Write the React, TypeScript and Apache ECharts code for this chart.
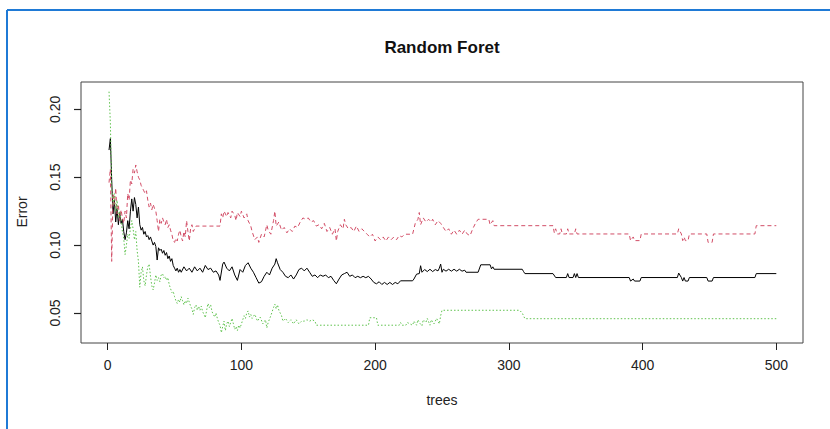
import React, { useEffect, useRef } from "react";
import * as echarts from "echarts";

const chartTitle = "Random Foret";
const xName = "trees";
const yName = "Error";
const xTicks = [0, 100, 200, 300, 400, 500];
const yTicks = [0.05, 0.1, 0.15, 0.2];

// OOB error (black, solid)
const oobError: [number, number][] = [
  [1, 0.17], [2, 0.1785], [3, 0.148], [4, 0.123], [5, 0.133], [6, 0.117], [7, 0.127], [8, 0.115], [9, 0.124], [10, 0.116],
  [11, 0.119], [12, 0.11], [13, 0.104], [14, 0.109], [15, 0.118], [16, 0.112], [17, 0.125], [18, 0.134], [19, 0.125], [20, 0.135],
  [21, 0.13], [22, 0.12], [23, 0.128], [24, 0.115], [25, 0.111], [26, 0.113], [27, 0.108], [28, 0.11], [29, 0.106], [30, 0.107],
  [31, 0.104], [32, 0.106], [33, 0.103], [34, 0.1], [35, 0.102], [36, 0.099], [37, 0.089], [38, 0.098], [39, 0.096], [40, 0.097],
  [41, 0.094], [42, 0.096], [43, 0.0925], [44, 0.0945], [45, 0.09], [46, 0.092], [47, 0.088], [48, 0.09], [49, 0.085], [50, 0.083],
  [51, 0.081], [52, 0.083], [53, 0.08], [54, 0.082], [55, 0.08], [57, 0.084], [59, 0.081], [61, 0.083], [63, 0.08], [65, 0.084],
  [67, 0.081], [69, 0.083], [71, 0.08], [73, 0.085], [75, 0.082], [77, 0.083], [79, 0.08], [81, 0.081], [83, 0.078], [84, 0.074],
  [86, 0.086], [87, 0.0875], [89, 0.083], [91, 0.081], [93, 0.084], [95, 0.078], [97, 0.074], [99, 0.082], [101, 0.08], [103, 0.085],
  [105, 0.087], [107, 0.083], [109, 0.08], [111, 0.076], [113, 0.072], [115, 0.073], [117, 0.077], [119, 0.08], [121, 0.078], [123, 0.083],
  [125, 0.086], [126, 0.09], [127, 0.087], [129, 0.082], [131, 0.08], [133, 0.077], [135, 0.076], [137, 0.078], [139, 0.075], [141, 0.078],
  [143, 0.082], [145, 0.083], [147, 0.081], [149, 0.083], [151, 0.08], [153, 0.077], [155, 0.078], [157, 0.076], [159, 0.078], [161, 0.077],
  [163, 0.078], [165, 0.076], [167, 0.077], [169, 0.074], [171, 0.0715], [173, 0.075], [175, 0.078], [177, 0.079], [179, 0.08], [181, 0.077],
  [183, 0.078], [185, 0.076], [187, 0.077], [189, 0.076], [191, 0.077], [193, 0.076], [195, 0.077], [197, 0.075], [199, 0.0725], [201, 0.0715],
  [203, 0.073], [205, 0.071], [207, 0.0725], [209, 0.071], [211, 0.0725], [213, 0.071], [215, 0.0725], [217, 0.0715], [219, 0.0737], [228, 0.0737],
  [229, 0.075], [231, 0.0786], [233, 0.079], [234, 0.0848], [235, 0.08], [237, 0.082], [239, 0.0805], [241, 0.0822], [243, 0.0805], [245, 0.082],
  [247, 0.081], [248, 0.083], [249, 0.086], [250, 0.08], [251, 0.0822], [253, 0.0808], [255, 0.0822], [257, 0.0808], [259, 0.0822], [261, 0.0808],
  [263, 0.0822], [265, 0.0808], [267, 0.0815], [268, 0.08], [277, 0.08], [279, 0.0855], [286, 0.0855], [287, 0.0825], [288, 0.084], [289, 0.0822],
  [310, 0.0822], [311, 0.0805], [312, 0.079], [333, 0.079], [335, 0.0761], [343, 0.0761], [344, 0.079], [345, 0.0761], [348, 0.0761], [349, 0.079],
  [350, 0.0761], [351, 0.079], [352, 0.0761], [390, 0.0761], [391, 0.0735], [393, 0.075], [394, 0.0735], [398, 0.0735], [399, 0.0761], [426, 0.0761],
  [427, 0.0794], [429, 0.0761], [430, 0.0735], [431, 0.0761], [432, 0.0735], [434, 0.0735], [435, 0.0761], [448, 0.0761], [449, 0.0735], [452, 0.0735],
  [453, 0.0761], [484, 0.0761], [485, 0.079], [500, 0.079],
];

// Class 1 error (red, dashed)
const class1Error: [number, number][] = [
  [1, 0.146], [2, 0.156], [3, 0.088], [4, 0.138], [5, 0.13], [6, 0.142], [7, 0.123], [8, 0.13], [9, 0.118], [10, 0.126],
  [11, 0.12], [12, 0.116], [13, 0.125], [14, 0.12], [15, 0.138], [16, 0.133], [17, 0.148], [18, 0.145], [19, 0.156], [20, 0.153],
  [21, 0.159], [22, 0.154], [23, 0.15], [24, 0.148], [25, 0.144], [26, 0.142], [27, 0.14], [28, 0.138], [29, 0.14], [30, 0.133],
  [31, 0.128], [32, 0.131], [33, 0.126], [34, 0.13], [35, 0.127], [36, 0.125], [37, 0.118], [38, 0.11], [39, 0.119], [40, 0.116],
  [41, 0.12], [42, 0.117], [43, 0.115], [44, 0.119], [45, 0.113], [46, 0.115], [47, 0.111], [48, 0.108], [49, 0.103], [50, 0.102],
  [51, 0.105], [52, 0.103], [53, 0.108], [54, 0.111], [55, 0.106], [56, 0.103], [57, 0.11], [58, 0.106], [59, 0.118], [60, 0.11],
  [61, 0.103], [62, 0.112], [63, 0.115], [64, 0.11], [66, 0.114], [84, 0.114], [85, 0.123], [86, 0.12], [87, 0.125], [89, 0.121],
  [90, 0.124], [92, 0.12], [93, 0.125], [95, 0.122], [96, 0.118], [97, 0.124], [99, 0.121], [100, 0.125], [102, 0.12], [104, 0.123],
  [105, 0.118], [107, 0.114], [108, 0.11], [110, 0.104], [112, 0.106], [113, 0.102], [115, 0.108], [117, 0.106], [119, 0.115], [120, 0.111],
  [122, 0.108], [124, 0.118], [125, 0.125], [126, 0.114], [128, 0.117], [130, 0.111], [132, 0.113], [134, 0.109], [136, 0.112], [138, 0.11],
  [140, 0.114], [142, 0.113], [144, 0.117], [146, 0.12], [148, 0.119], [150, 0.12], [152, 0.117], [154, 0.118], [156, 0.114], [158, 0.115],
  [160, 0.112], [162, 0.116], [164, 0.11], [166, 0.113], [168, 0.108], [170, 0.112], [171, 0.103], [172, 0.11], [174, 0.115], [176, 0.112],
  [177, 0.119], [178, 0.115], [180, 0.112], [182, 0.113], [184, 0.11], [186, 0.114], [188, 0.11], [190, 0.112], [192, 0.11], [194, 0.108],
  [196, 0.106], [198, 0.108], [200, 0.103], [202, 0.106], [204, 0.104], [206, 0.106], [208, 0.103], [210, 0.106], [212, 0.104], [214, 0.106],
  [216, 0.104], [218, 0.107], [220, 0.106], [222, 0.108], [228, 0.108], [229, 0.112], [230, 0.116], [232, 0.119], [233, 0.124], [234, 0.115],
  [236, 0.12], [238, 0.117], [240, 0.119], [242, 0.117], [243, 0.119], [245, 0.115], [247, 0.118], [249, 0.116], [251, 0.113], [253, 0.11],
  [255, 0.112], [257, 0.108], [259, 0.111], [261, 0.108], [263, 0.111], [265, 0.108], [267, 0.111], [269, 0.108], [271, 0.107], [273, 0.112],
  [275, 0.116], [277, 0.119], [285, 0.119], [286, 0.115], [288, 0.118], [289, 0.1143], [333, 0.1143], [334, 0.109], [335, 0.112], [336, 0.1082],
  [338, 0.1082], [339, 0.112], [340, 0.1082], [343, 0.1082], [344, 0.112], [345, 0.1082], [349, 0.1082], [350, 0.112], [351, 0.1082], [390, 0.1082],
  [391, 0.1033], [393, 0.106], [394, 0.1033], [398, 0.1033], [399, 0.1082], [426, 0.1082], [427, 0.112], [429, 0.1082], [430, 0.1033], [431, 0.106],
  [432, 0.1033], [434, 0.1033], [435, 0.1082], [448, 0.1082], [449, 0.102], [452, 0.102], [453, 0.1082], [484, 0.1082], [485, 0.1143], [500, 0.1143],
];

// Class 2 error (green, dotted)
const class2Error: [number, number][] = [
  [1, 0.213], [2, 0.19], [3, 0.143], [4, 0.13], [5, 0.138], [6, 0.125], [7, 0.133], [8, 0.12], [9, 0.125], [10, 0.118],
  [11, 0.11], [12, 0.105], [13, 0.093], [14, 0.1], [15, 0.108], [16, 0.105], [17, 0.112], [18, 0.118], [19, 0.112], [20, 0.104],
  [21, 0.11], [22, 0.096], [23, 0.088], [24, 0.069], [25, 0.08], [26, 0.084], [27, 0.074], [28, 0.07], [29, 0.078], [30, 0.084],
  [31, 0.086], [32, 0.077], [33, 0.07], [34, 0.067], [35, 0.072], [36, 0.078], [37, 0.074], [38, 0.076], [39, 0.073], [40, 0.078],
  [41, 0.079], [42, 0.076], [43, 0.077], [44, 0.074], [45, 0.076], [46, 0.071], [47, 0.068], [48, 0.065], [49, 0.066], [50, 0.062],
  [51, 0.059], [52, 0.057], [53, 0.06], [54, 0.058], [55, 0.062], [56, 0.059], [57, 0.056], [58, 0.059], [59, 0.057], [60, 0.061],
  [61, 0.058], [62, 0.055], [63, 0.053], [64, 0.049], [65, 0.054], [66, 0.056], [67, 0.052], [68, 0.055], [69, 0.052], [70, 0.055],
  [71, 0.051], [72, 0.049], [73, 0.0465], [74, 0.052], [75, 0.057], [76, 0.054], [77, 0.056], [78, 0.051], [79, 0.049], [80, 0.047],
  [81, 0.05], [82, 0.046], [83, 0.043], [84, 0.041], [85, 0.0355], [86, 0.04], [87, 0.044], [88, 0.037], [89, 0.042], [90, 0.044],
  [91, 0.04], [92, 0.043], [93, 0.046], [94, 0.042], [95, 0.038], [96, 0.04], [97, 0.037], [98, 0.041], [99, 0.039], [100, 0.042],
  [101, 0.045], [102, 0.048], [103, 0.046], [104, 0.05], [105, 0.0515], [106, 0.047], [107, 0.049], [108, 0.046], [110, 0.049], [112, 0.044],
  [114, 0.047], [116, 0.042], [118, 0.045], [119, 0.039], [120, 0.043], [122, 0.048], [124, 0.054], [125, 0.0565], [126, 0.053], [127, 0.056],
  [128, 0.052], [130, 0.048], [131, 0.044], [133, 0.046], [135, 0.043], [137, 0.045], [139, 0.042], [141, 0.045], [143, 0.042], [145, 0.044],
  [147, 0.044], [149, 0.045], [151, 0.044], [153, 0.045], [155, 0.044], [156, 0.041], [195, 0.041], [196, 0.0465], [201, 0.0465], [202, 0.041],
  [218, 0.041], [219, 0.043], [220, 0.041], [223, 0.041], [224, 0.043], [226, 0.042], [228, 0.041], [229, 0.044], [231, 0.041], [232, 0.045],
  [233, 0.043], [235, 0.0405], [236, 0.045], [238, 0.043], [239, 0.046], [241, 0.041], [242, 0.045], [244, 0.042], [246, 0.046], [248, 0.042],
  [249, 0.048], [250, 0.052], [308, 0.052], [310, 0.05], [312, 0.0458], [500, 0.0458],
];

const FONT = '"Liberation Sans", Arial, Helvetica, sans-serif';

export default function App() {
  const ref = useRef<HTMLDivElement>(null);
  useEffect(() => {
    if (!ref.current) return;
    const chart = echarts.init(ref.current, null, { renderer: "svg" });
    chart.setOption({
      animation: false,
      backgroundColor: "#ffffff",
      grid: {
        left: 81,
        top: 82,
        width: 722,
        height: 261,
        show: true,
        borderColor: "#444",
        borderWidth: 1,
      },
      xAxis: {
        type: "value",
        min: -19.96,
        max: 519.96,
        name: xName,
        nameLocation: "middle",
        nameGap: 50,
        nameTextStyle: { fontSize: 14, color: "#222", fontFamily: FONT },
        axisLine: { show: false, onZero: false },
        splitLine: { show: false },
        axisTick: { show: true, customValues: xTicks, length: 7, lineStyle: { color: "#222", width: 1 } },
        axisLabel: { customValues: xTicks, margin: 15, fontSize: 14, color: "#222", fontFamily: FONT },
      },
      yAxis: [
        {
          type: "value",
          min: 0.0279,
          max: 0.2201,
          axisLine: { show: false, onZero: false },
          splitLine: { show: false },
          axisTick: { show: true, customValues: yTicks, length: 7, lineStyle: { color: "#222", width: 1.2 } },
          axisLabel: {
            customValues: yTicks,
            rotate: 90,
            margin: 19,
            fontSize: 14,
            color: "#222",
            fontFamily: FONT,
            formatter: (v: number) => v.toFixed(2),
          },
        },
      ],
      graphic: [
        {
          type: "text",
          x: 442,
          y: 47,
          style: {
            text: chartTitle,
            font: `bold 17px ${FONT}`,
            fill: "#111",
            textAlign: "center",
            textVerticalAlign: "middle",
          },
        },
        {
          type: "text",
          x: 22,
          y: 212,
          rotation: Math.PI / 2,
          style: {
            text: yName,
            font: `14px ${FONT}`,
            fill: "#222",
            textAlign: "center",
            textVerticalAlign: "middle",
          },
        },
        { type: "line", shape: { x1: 7, y1: 10, x2: 830, y2: 10 }, style: { stroke: "#1f7ad6", lineWidth: 2 } },
        { type: "line", shape: { x1: 7, y1: 10, x2: 7, y2: 429 }, style: { stroke: "#1f7ad6", lineWidth: 2 } },
      ],
      series: [
        {
          type: "line",
          data: oobError,
          showSymbol: false,
          lineStyle: { color: "#000000", width: 1 },
        },
        {
          type: "line",
          data: class1Error,
          showSymbol: false,
          lineStyle: { color: "#D24E67", width: 1, type: [4, 3] },
        },
        {
          type: "line",
          data: class2Error,
          showSymbol: false,
          lineStyle: { color: "#5FC24E", width: 1, type: [1.5, 2] },
        },
      ],
    });
    return () => chart.dispose();
  }, []);
  return (
    <div
      ref={ref}
      style={{ position: "fixed", left: 0, top: 0, width: 830, height: 429, background: "#fff" }}
    />
  );
}
